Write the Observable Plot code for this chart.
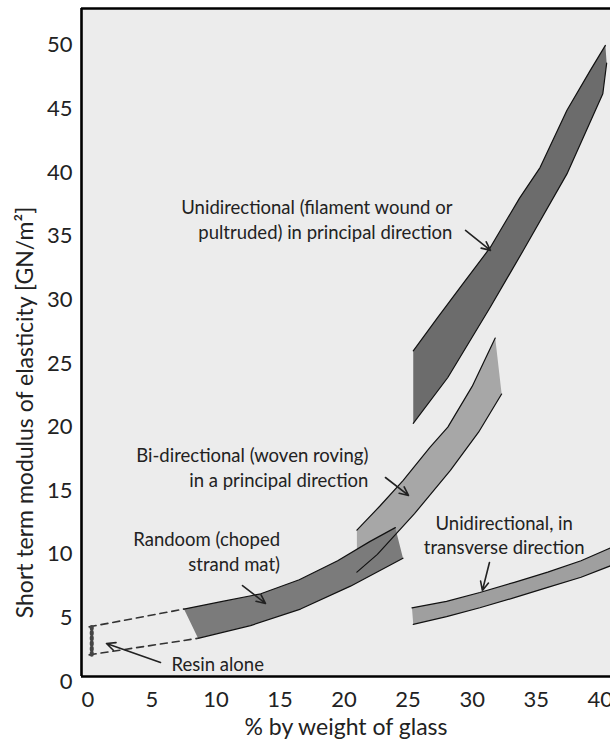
<!DOCTYPE html>
<html>
<head>
<meta charset="utf-8">
<script src="https://cdn.jsdelivr.net/npm/d3@7"></script>
<script src="https://cdn.jsdelivr.net/npm/@observablehq/plot@0.6"></script>
<style>
  html, body { margin: 0; padding: 0; background: #ffffff; }
  #chart svg { display: block; }
</style>
</head>
<body>
<div id="chart"></div>
<script>
// ---- axes ----
const xDomain = [-0.5, 40.8];
const yDomain = [0.4, 52.9];
const xTicks = [0, 5, 10, 15, 20, 25, 30, 35, 40];
const yTicks = [0, 5, 10, 15, 20, 25, 30, 35, 40, 45, 50];
const xTitle = "% by weight of glass";
const yTitle = "Short term modulus of elasticity [GN/m²]";

// ---- bands: [x (% glass), modulus GN/m²] ----
const uniPrincipalUpper = [[25.4,26.0],[27.3,28.6],[29.3,31.3],[31.4,34.1],[33.7,38.0],[35.3,40.4],[37.4,44.9],[39.2,48.0],[40.4,50.0]];
const uniPrincipalLower = [[25.4,20.3],[28.1,23.9],[31.4,29.4],[34.0,33.9],[37.4,39.9],[40.2,46.2],[40.5,48.6]];

const biUpper = [[21.0,11.9],[22.8,13.8],[24.6,15.8],[26.7,18.4],[28.1,20.0],[30.0,23.2],[31.8,27.0]];
const biLower = [[21.0,8.6],[22.6,10.0],[25.5,13.2],[28.3,16.6],[30.5,19.6],[32.3,22.6]];

const randomUpper = [[7.5,5.7],[10.5,6.3],[13.5,6.9],[16.5,8.0],[19.5,9.5],[22.0,11.0],[24.0,12.1]];
const randomLower = [[8.6,3.4],[12.7,4.4],[16.6,5.7],[20.5,7.5],[24.6,9.7]];

const transUpper = [[25.3,5.8],[28.0,6.3],[30.6,7.0],[33.3,7.8],[35.9,8.6],[38.5,9.5],[40.8,10.5]];
const transLower = [[25.4,4.5],[28.0,5.1],[30.6,5.8],[33.3,6.6],[35.9,7.4],[38.5,8.2],[40.8,9.1]];

// resin alone (dashed)
const resinUpper = [[0.1,4.3],[7.5,5.7]];
const resinLower = [[0.1,2.1],[8.6,3.4]];
const resinEnd = [[0.3,2.1],[0.3,4.3]];

// ---- annotations ----
const labelsEnd = [
  {x: 28.46, y: 36.4, text: "Unidirectional (filament wound or\npultruded) in principal direction"},
  {x: 21.9,  y: 16.9, text: "Bi-directional (woven roving)\nin a principal direction"},
  {x: 15.0,  y: 10.3, text: "Randoom (choped\nstrand mat)"}
];
const labelsStart = [
  {x: 6.53,  y: 1.5,  text: "Resin alone"}
];
const labelsMiddle = [
  {x: 32.5,  y: 11.6, text: "Unidirectional, in\ntransverse direction"}
];
const arrows = [
  {x1: 29.48, y1: 35.46, x2: 31.43, y2: 33.89},
  {x1: 23.23, y1: 16.04, x2: 25.03, y2: 14.63},
  {x1: 12.07, y1: 7.55,  x2: 13.86, y2: 6.14},
  {x1: 5.67,  y1: 1.5,   x2: 1.45,  y2: 2.99},
  {x1: 31.35, y1: 9.36,  x2: 30.80, y2: 7.16}
];

const bands = [
  {name: "bi", upper: biUpper, lower: biLower, fill: "#a7a7a7"},
  {name: "uni", upper: uniPrincipalUpper, lower: uniPrincipalLower, fill: "#6c6c6c"},
  {name: "random", upper: randomUpper, lower: randomLower, fill: "#7b7b7b"},
  {name: "trans", upper: transUpper, lower: transLower, fill: "#9f9f9f"}
];
const toPts = arr => arr.map(([x, y]) => ({x, y}));
const polygon = b => toPts([...b.upper, ...b.lower.slice().reverse()]);

const annFont = 18.5;
const marks = [
  Plot.frame({fill: "#ececec", stroke: "none"})
];
for (const b of bands) {
  marks.push(Plot.line(polygon(b), {x: "x", y: "y", fill: b.fill, stroke: "none"}));
}
for (const b of bands) {
  marks.push(Plot.line(toPts(b.upper), {x: "x", y: "y", stroke: "#111", strokeWidth: 1.2}));
  marks.push(Plot.line(toPts(b.lower), {x: "x", y: "y", stroke: "#111", strokeWidth: 1.2}));
}
marks.push(
  Plot.line(toPts(resinUpper), {x: "x", y: "y", stroke: "#333", strokeWidth: 1.6, strokeDasharray: "7,5"}),
  Plot.line(toPts(resinLower), {x: "x", y: "y", stroke: "#333", strokeWidth: 1.6, strokeDasharray: "7,5"}),
  Plot.line(toPts(resinEnd), {x: "x", y: "y", stroke: "#444", strokeWidth: 4, strokeDasharray: "2,3.2"}),
  Plot.arrow(arrows, {x1: "x1", y1: "y1", x2: "x2", y2: "y2", stroke: "#222", strokeWidth: 1.6, headLength: 9, headAngle: 50}),
  Plot.text(labelsEnd, {x: "x", y: "y", text: "text", textAnchor: "end", lineAnchor: "middle", lineHeight: 1.35, fontSize: annFont, fill: "#222"}),
  Plot.text(labelsStart, {x: "x", y: "y", text: "text", textAnchor: "start", lineAnchor: "middle", lineHeight: 1.35, fontSize: annFont, fill: "#222"}),
  Plot.text(labelsMiddle, {x: "x", y: "y", text: "text", textAnchor: "middle", lineAnchor: "middle", lineHeight: 1.35, fontSize: annFont, fill: "#222"}),
  Plot.ruleX([xDomain[0]], {stroke: "#000", strokeWidth: 2.6}),
  Plot.ruleY([yDomain[0], yDomain[1]], {stroke: "#000", strokeWidth: 2.6}),
  Plot.axisX(xTicks, {tickSize: 0, tickPadding: 15, fontSize: 22, fill: "#222", label: null}),
  Plot.axisY(yTicks, {tickSize: 0, tickPadding: 9, fontSize: 22, fill: "#222", label: null}),
  Plot.text([xTitle], {frameAnchor: "bottom", textAnchor: "middle", dy: 51, lineAnchor: "middle", fontSize: 23, fill: "#222"}),
  Plot.text([yTitle], {frameAnchor: "left", textAnchor: "middle", dx: -56, dy: 70, rotate: -90, lineAnchor: "middle", fontSize: 23, fill: "#222"})
);

const chart = Plot.plot({
  width: 610,
  height: 747,
  marginLeft: 81,
  marginRight: 0,
  marginTop: 8,
  marginBottom: 71,
  x: {domain: xDomain},
  y: {domain: yDomain},
  style: {fontFamily: "Lato, 'Open Sans', sans-serif", background: "#ffffff"},
  marks
});
document.getElementById("chart").appendChild(chart);
</script>
</body>
</html>
